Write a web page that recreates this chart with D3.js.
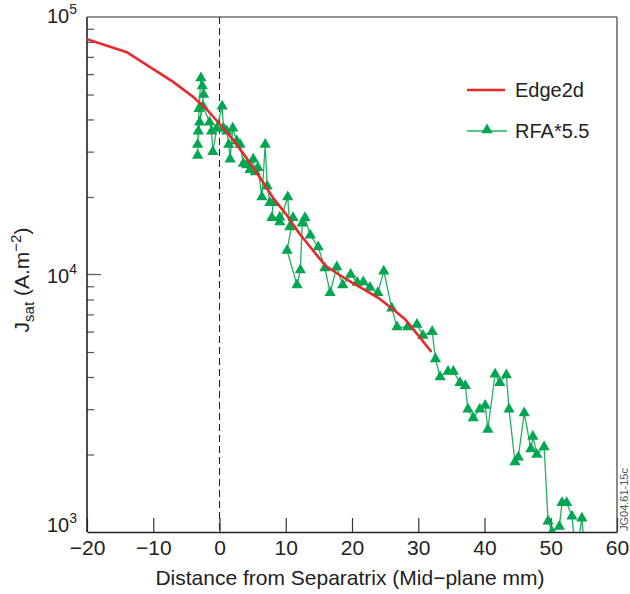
<!DOCTYPE html>
<html>
<head>
<meta charset="utf-8">
<script src="https://cdn.jsdelivr.net/npm/d3@7"></script>
<style>
  html, body { margin: 0; padding: 0; background: #fff; }
  svg { display: block; font-family: "Liberation Sans", Arial, sans-serif; }
</style>
</head>
<body>
<svg id="chart" width="630" height="594"></svg>
<script>
// Edge2d simulated saturation current profile
const edgeX = [-20, -14, -7, -4, -2, 0, 2, 4, 6, 8, 10, 12, 14, 16, 18, 20, 22, 24, 26, 28, 30, 32];
const edgeY = [8.2e4, 7.3e4, 5.6e4, 4.9e4, 4.4e4, 3.85e4, 3.35e4, 2.85e4, 2.4e4, 2.0e4, 1.72e4, 1.45e4,
               1.25e4, 1.08e4, 1.0e4, 9.3e3, 8.7e3, 8.1e3, 7.4e3, 6.7e3, 5.8e3, 5.0e3];

// Reciprocating probe (RFA) data, scaled by 5.5
const rfaX = [-3.3, -3.1, -2.8, -2.6, -2.4, -3.2, -3.3, -3.0, -2.5, -1.5, -1.2, -1.0, -0.4, 0.4, 0.6,
              1.1, 1.4, 1.6, 2.0, 2.6, 3.1, 3.6, 4.1, 4.6, 5.1, 5.4, 5.8, 6.4, 6.9, 7.2, 7.6, 8.1,
              7.9, 9.1, 9.1, 10.3, 10.6, 11.1, 10.2, 11.7, 12.2, 12.5, 12.9, 13.7, 14.9, 15.9, 16.7,
              17.7, 18.6, 19.8, 20.8, 21.7, 22.7, 23.9, 24.8, 26.0, 26.8, 28.4, 29.8, 30.7, 32.1,
              32.6, 33.3, 34.5, 35.3, 36.3, 37.1, 37.5, 38.3, 39.3, 40.1, 40.5, 41.6, 42.3, 43.3,
              43.7, 44.6, 45.1, 46.0, 47.0, 47.3, 47.9, 49.0, 49.6, 50.2, 51.3, 51.7, 52.4, 53.2,
              53.8, 54.7, 55.2];
const rfaY = [2.9e4, 4.4e4, 5.8e4, 5.4e4, 5.0e4, 3.6e4, 3.2e4, 3.9e4, 4.5e4, 3.9e4, 3.6e4, 3.0e4,
              3.7e4, 4.5e4, 3.7e4, 3.6e4, 3.2e4, 2.8e4, 3.7e4, 3.3e4, 3.2e4, 2.7e4, 2.66e4, 2.55e4,
              2.8e4, 2.5e4, 2.6e4, 2.0e4, 3.2e4, 2.2e4, 1.9e4, 1.9e4, 1.66e4, 1.67e4, 1.6e4, 2.0e4,
              1.53e4, 1.66e4, 1.24e4, 9.1e3, 1.04e4, 1.58e4, 1.66e4, 1.42e4, 1.28e4, 1.06e4, 8.5e3,
              1.07e4, 9.1e3, 1.0e4, 9.3e3, 9.35e3, 8.9e3, 8.5e3, 1.03e4, 7.4e3, 6.25e3, 6.25e3,
              6.4e3, 5.8e3, 6.0e3, 4.7e3, 4.0e3, 4.2e3, 4.2e3, 3.8e3, 3.7e3, 3.0e3, 2.77e3, 3.0e3,
              3.1e3, 2.5e3, 4.1e3, 3.8e3, 4.07e3, 3.0e3, 1.87e3, 1.95e3, 2.9e3, 2.1e3, 2.35e3,
              2.0e3, 2.14e3, 1.1e3, 1.0e3, 1.05e3, 1.3e3, 1.3e3, 1.15e3, 8.0e2, 1.13e3, 8.0e2];

const xTicks = [-20, -10, 0, 10, 20, 30, 40, 50, 60];
const yMajor = [1e3, 1e4, 1e5];
const yExp = ["3", "4", "5"];
const legendNames = ["Edge2d", "RFA*5.5"];

const red = "#e8282b";
const greenLine = "#22b060";
const greenFill = "#00a651";

const svg = d3.select("#chart");
const mLeft = 87, mRight = 617, mTop = 17, mBottom = 532;

const x = d3.scaleLinear().domain([-20, 60]).range([mLeft, mRight]);
const y = d3.scaleLog().domain([1e3, 1e5]).range([mBottom, mTop]);

svg.append("defs").append("clipPath").attr("id", "plotClip")
  .append("rect").attr("x", mLeft).attr("y", mTop).attr("width", mRight - mLeft).attr("height", mBottom - mTop);

// frame: top and right in grey
svg.append("line").attr("x1", mLeft).attr("x2", mRight).attr("y1", mTop).attr("y2", mTop)
  .attr("stroke", "#6e6e6e").attr("stroke-width", 1.6);
svg.append("line").attr("x1", mRight).attr("x2", mRight).attr("y1", mTop).attr("y2", mBottom)
  .attr("stroke", "#6e6e6e").attr("stroke-width", 1.6);

// x axis with inward ticks
const xAxis = d3.axisBottom(x).tickValues(xTicks).tickSizeInner(-14).tickSizeOuter(0)
  .tickFormat(d => d < 0 ? "\u2212" + Math.abs(d) : d);
const gx = svg.append("g").attr("transform", `translate(0,${mBottom})`).call(xAxis);
gx.select(".domain").attr("stroke", "#222").attr("stroke-width", 1.6);
gx.selectAll(".tick line").attr("stroke", "#333").attr("stroke-width", 1.2);
gx.selectAll(".tick text").attr("font-size", 21).attr("fill", "#222").attr("dy", "0.95em")
  .attr("font-family", "Liberation Sans, Arial, sans-serif");

// y axis: log minor ticks inward, major labelled as powers of ten
const minorVals = y.ticks().filter(v => !yMajor.includes(v));
const gy = svg.append("g").attr("transform", `translate(${mLeft},0)`)
  .call(d3.axisRight(y).tickValues(minorVals).tickSize(7).tickFormat(""));
gy.select(".domain").remove();
gy.selectAll(".tick line").attr("stroke", "#555").attr("stroke-width", 1.2);
svg.append("line").attr("x1", mLeft).attr("x2", mLeft + 14).attr("y1", y(1e4)).attr("y2", y(1e4))
  .attr("stroke", "#666").attr("stroke-width", 1.4);
svg.append("line").attr("x1", mLeft).attr("x2", mLeft).attr("y1", mTop).attr("y2", mBottom)
  .attr("stroke", "#222").attr("stroke-width", 1.6);

const labelShift = [-8, 0, -2];
yMajor.forEach((v, i) => {
  const t = svg.append("text").attr("x", 77).attr("y", y(v) + labelShift[i] + 8)
    .attr("text-anchor", "end").attr("font-size", 20).attr("fill", "#222");
  t.append("tspan").text("10");
  t.append("tspan").attr("dy", -9).attr("font-size", 14).text(yExp[i]);
});

// separatrix marker
svg.append("line").attr("x1", x(0)).attr("x2", x(0)).attr("y1", mTop).attr("y2", mBottom)
  .attr("stroke", "#222").attr("stroke-width", 1.1).attr("stroke-dasharray", "7,4");

const plot = svg.append("g").attr("clip-path", "url(#plotClip)");

// RFA measurements
const rfa = rfaX.map((d, i) => [d, rfaY[i]]);
plot.append("path").datum(rfa)
  .attr("d", d3.line().x(d => x(d[0])).y(d => y(d[1])))
  .attr("fill", "none").attr("stroke", greenLine).attr("stroke-width", 1.3);
const tri = d3.symbol().type(d3.symbolTriangle).size(55);
plot.selectAll("path.tri").data(rfa).join("path").attr("class", "tri")
  .attr("d", tri).attr("transform", d => `translate(${x(d[0])},${y(d[1])})`)
  .attr("fill", greenFill);

// Edge2d profile
const edge = edgeX.map((d, i) => [d, edgeY[i]]);
plot.append("path").datum(edge)
  .attr("d", d3.line().x(d => x(d[0])).y(d => y(d[1])))
  .attr("fill", "none").attr("stroke", red).attr("stroke-width", 2.6);

// legend
const lg = svg.append("g");
lg.append("line").attr("x1", 467).attr("x2", 505).attr("y1", 90).attr("y2", 90)
  .attr("stroke", red).attr("stroke-width", 2.6);
lg.append("text").attr("x", 515).attr("y", 97).attr("font-size", 20).attr("fill", "#222").text(legendNames[0]);
lg.append("line").attr("x1", 467).attr("x2", 507).attr("y1", 131).attr("y2", 131)
  .attr("stroke", greenLine).attr("stroke-width", 1.3);
lg.append("path").attr("d", tri).attr("transform", "translate(487,130)").attr("fill", greenFill);
lg.append("text").attr("x", 515).attr("y", 138).attr("font-size", 20).attr("fill", "#222").text(legendNames[1]);

// axis titles
svg.append("text").attr("x", (mLeft + mRight) / 2 - 2).attr("y", 585).attr("text-anchor", "middle")
  .attr("font-size", 21).attr("fill", "#222").text("Distance from Separatrix (Mid\u2212plane mm)");

const yt = svg.append("text").attr("transform", "translate(29,280) rotate(-90)")
  .attr("text-anchor", "middle").attr("font-size", 21).attr("fill", "#222");
yt.append("tspan").text("J");
yt.append("tspan").attr("font-size", 15).attr("dy", 5).text("sat");
yt.append("tspan").attr("dy", -5).text(" (A.m");
yt.append("tspan").attr("font-size", 15).attr("dy", -8).text("\u22122");
yt.append("tspan").attr("dy", 8).text(")");

// figure reference code
svg.append("text").attr("transform", "translate(628,531) rotate(-90)")
  .attr("font-size", 11).attr("fill", "#555").text("JG04.61-15c");
</script>
</body>
</html>
